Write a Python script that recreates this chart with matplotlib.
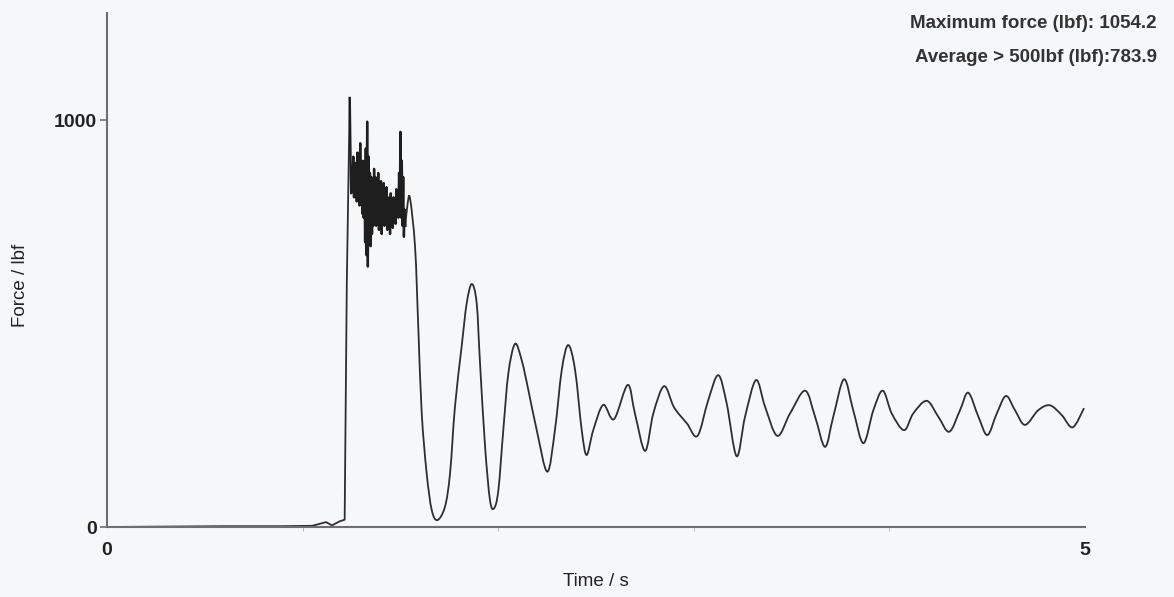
import numpy as np
import matplotlib.pyplot as plt
from matplotlib.path import Path
from matplotlib.patches import PathPatch

plt.rcParams["font.family"] = ["Liberation Sans", "DejaVu Sans"]

# baseline before the impact (s, lbf)
base_t = [0.0, 0.30, 0.60, 0.90, 1.05, 1.12, 1.15, 1.19, 1.215]
base_f = [0, 1, 2, 2, 3, 12, 4, 14, 18]

# rise and first spike
rise_t = [1.226, 1.241]
rise_f = [600, 1054.2]

# noisy plateau, read as alternating highs / lows
noise_f = [905, 820, 880, 840, 910, 810, 870, 830, 895, 800,
           920, 815, 885, 790, 943, 805, 870, 770, 900, 760,
           880, 700, 930, 668, 996, 640, 910, 700, 870, 690,
           860, 720, 850, 740, 880,
           760, 860, 740, 845, 770, 870, 730, 840, 760, 850,
           720, 830, 770, 845, 740, 820, 760, 835, 730, 810,
           750, 800, 720, 820, 760, 790, 735, 810, 770, 800,
           745, 830, 780, 800, 760,
           870, 780, 971, 760, 900, 740, 860, 713, 780, 740]
noise_t0, noise_t1 = 1.245, 1.525

# ringing after the impact
ring_t = [1.536, 1.549, 1.575, 1.592, 1.609, 1.634, 1.660, 1.689, 1.728, 1.754,
          1.779, 1.813, 1.839, 1.865, 1.890, 1.907, 1.933, 1.958, 1.979, 2.001,
          2.026, 2.052, 2.086, 2.120, 2.154, 2.197, 2.251, 2.290, 2.325, 2.358,
          2.393, 2.427, 2.452, 2.486, 2.537, 2.592, 2.662, 2.699, 2.751, 2.793,
          2.848, 2.899, 2.964, 3.019, 3.074, 3.125, 3.168, 3.219, 3.262, 3.318,
          3.364, 3.427, 3.492, 3.569, 3.620, 3.671, 3.713, 3.768, 3.815, 3.867,
          3.918, 3.966, 4.012, 4.075, 4.122, 4.191, 4.250, 4.306, 4.361, 4.403,
          4.455, 4.501, 4.549, 4.596, 4.642, 4.693, 4.761, 4.821, 4.881, 4.937,
          4.995]
ring_f = [791, 808, 688, 484, 280, 133, 42, 17, 50, 133,
          296, 443, 550, 597, 550, 403, 197, 66, 46, 91,
          238, 378, 450, 410, 337, 238, 136, 238, 386, 447,
          386, 238, 177, 238, 300, 265, 349, 279, 187, 279,
          346, 294, 255, 224, 312, 373, 304, 174, 271, 361,
          296, 224, 279, 335, 271, 197, 271, 363, 287, 206,
          287, 335, 279, 238, 279, 310, 271, 234, 287, 330,
          271, 226, 279, 322, 287, 251, 287, 299, 275, 245,
          292]

max_force = 1054.2
avg_force = 783.9


def smooth_path(xs, ys):
    # catmull-rom through the read points, drawn as cubic bezier segments
    p = np.column_stack([xs, ys]).astype(float)
    p = np.vstack([p[0], p, p[-1]])
    verts = [p[1]]
    codes = [Path.MOVETO]
    for i in range(1, len(p) - 2):
        c1 = p[i] + (p[i + 1] - p[i - 1]) / 6
        c2 = p[i + 1] - (p[i + 2] - p[i]) / 6
        verts += [c1, c2, p[i + 1]]
        codes += [Path.CURVE4] * 3
    return Path(verts, codes)


noise_t = np.linspace(noise_t0, noise_t1, len(noise_f))

bg = '#f6f7f9'
line_c = '#2e2e2e'
fig = plt.figure(figsize=(11.74, 5.97), dpi=100, facecolor=bg)
ax = fig.add_axes([107 / 1174, 70 / 597, 978 / 1174, 514 / 597], facecolor=bg)

ax.plot(np.concatenate([base_t, rise_t]), np.concatenate([base_f, rise_f]), color=line_c, lw=1.3)
ax.plot(np.concatenate([rise_t[-1:], noise_t]), np.concatenate([rise_f[-1:], noise_f]),
        color='#1e1e1e', lw=1.7)
ring = smooth_path([noise_t[-1]] + ring_t, [noise_f[-1]] + ring_f)
ax.add_patch(PathPatch(ring, fill=False, edgecolor=line_c, lw=1.3))

ax.set_xlim(0, 5)
ax.set_ylim(0, 1263)
for s in ['top', 'right']:
    ax.spines[s].set_visible(False)
for s in ['left', 'bottom']:
    ax.spines[s].set_color('#6e6e6e')
    ax.spines[s].set_linewidth(1.5)

ax.set_xticks([0, 5])
ax.set_xticks([1, 2, 3, 4], minor=True)
ax.set_yticks([0, 1000])
ax.tick_params(axis='x', which='major', length=0, pad=11, labelsize=14, colors='#222222')
ax.tick_params(axis='x', which='minor', length=3, color='#aaaaaa')
ax.tick_params(axis='y', which='major', length=5, width=1.2, pad=2, labelsize=14, colors='#222222')
ax.tick_params(axis='y', which='major', color='#6e6e6e')
for lab in ax.get_xticklabels() + ax.get_yticklabels():
    lab.set_fontweight('bold')

ax.set_xlabel('Time / s', fontsize=13.5, color='#222222')
ax.set_ylabel('Force / lbf', fontsize=13.5, color='#222222')
ax.xaxis.set_label_coords(0.5, -0.089)
ax.yaxis.set_label_coords(-0.080, 0.47)

fig.text(1157 / 1174, 1 - 24 / 597, f'Maximum force (lbf): {max_force:.1f}', ha='right', va='center',
         fontsize=13.5, fontweight='bold', color='#333333')
fig.text(1157 / 1174, 1 - 58 / 597, f'Average > 500lbf (lbf):{avg_force:.1f}', ha='right', va='center',
         fontsize=13.5, fontweight='bold', color='#333333')

fig.savefig('out.png', dpi=100, facecolor=bg)
